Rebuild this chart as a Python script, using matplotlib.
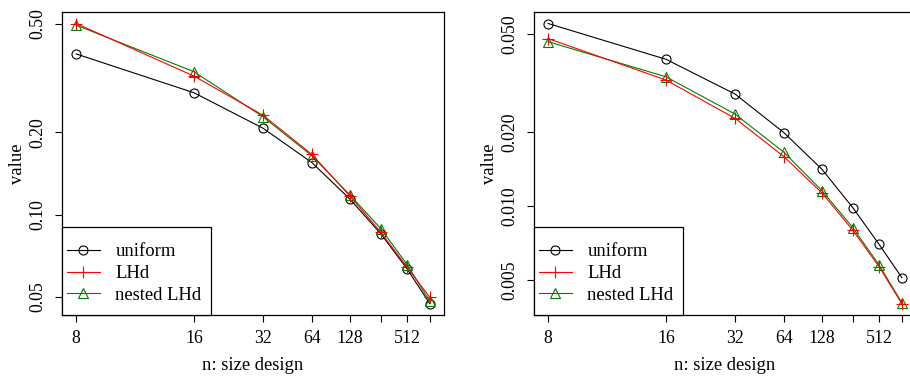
import numpy as np
import matplotlib
matplotlib.use("Agg")
import matplotlib.pyplot as plt
from matplotlib.patches import Rectangle

# design sizes
n_sizes = [8, 16, 32, 64, 128, 256, 512, 1024]
n_labels = ["8", "16", "32", "64", "128", "", "512", ""]

# left panel
left_uniform = [0.387, 0.279, 0.207, 0.155, 0.114, 0.085, 0.0633, 0.0472]
left_lhd = [0.500, 0.321, 0.231, 0.166, 0.117, 0.0861, 0.0642, 0.0498]
left_nested = [0.493, 0.333, 0.228, 0.164, 0.118, 0.0888, 0.0656, 0.0482]
left_yticks = [0.05, 0.10, 0.20, 0.50]
left_ylabels = ["0.05", "0.10", "0.20", "0.50"]

# right panel
right_uniform = [0.0554, 0.0396, 0.0286, 0.0199, 0.01413, 0.00984, 0.00698, 0.00511]
right_lhd = [0.0481, 0.0326, 0.02277, 0.0159, 0.01132, 0.00796, 0.00566, 0.0040]
right_nested = [0.0467, 0.0336, 0.0237, 0.01656, 0.01156, 0.00816, 0.00575, 0.00404]
right_yticks = [0.005, 0.010, 0.020, 0.050]
right_ylabels = ["0.005", "0.010", "0.020", "0.050"]

plt.rcParams['font.family'] = ['Liberation Serif', 'DejaVu Serif']
plt.rcParams['font.size'] = 13

W, H = 910, 376
fig = plt.figure(figsize=(W / 100, H / 100), dpi=100)

idx = np.arange(1, len(n_sizes) + 1)


def r_lim(vals, log=True):
    v = np.log10(vals) if log else np.log(vals)
    lo, hi = v.min(), v.max()
    pad = 0.04 * (hi - lo)
    return lo - pad, hi + pad


def panel(rect, uni, lhd, nest, yt, ytl):
    ax = fig.add_axes(rect)
    ax.plot(idx, uni, color="black", lw=0.8, marker="o", ms=6.5, mfc="none", mew=0.8, label="uniform")
    ax.plot(idx, nest, color="#008000", lw=0.8, marker="^", ms=7.5, mfc="none", mew=0.8, label="nested LHd")
    ax.plot(idx, lhd, color="red", lw=0.8, marker="+", ms=9, mew=0.8, label="LHd")
    ax.set_xscale("log")
    ax.set_yscale("log")
    lo, hi = r_lim(idx, log=False)
    ax.set_xlim(np.exp(lo), np.exp(hi))
    allv = np.concatenate([uni, lhd, nest])
    lo, hi = r_lim(allv)
    ax.set_ylim(10 ** lo, 10 ** hi)
    ax.minorticks_off()
    ax.set_xticks(idx)
    ax.set_xticklabels(n_labels)
    ax.set_yticks(yt)
    ax.set_yticklabels(ytl, rotation=90, va="center")
    ax.tick_params(axis="x", length=5, width=0.8, pad=6, labelsize=12.8)
    ax.tick_params(axis="y", length=5, width=0.8, pad=6, labelsize=12.8)
    for s in ax.spines.values():
        s.set_linewidth(0.9)
    ax.set_xlabel("n: size design", fontsize=13.4)
    ax.set_ylabel("value", fontsize=13.4)
    ax.xaxis.set_label_coords(0.5, -0.138)
    ax.yaxis.set_label_coords(-0.095, 0.5)

    # legend box like R's, taller padding than wide
    bw, bh = 149 / 382, 88 / 302.7
    ax.add_patch(Rectangle((0, 0), bw, bh, transform=ax.transAxes, facecolor="white",
                           edgecolor="black", lw=0.9, zorder=4, clip_on=False))
    h, l = ax.get_legend_handles_labels()
    order = [0, 2, 1]
    ax.legend([h[i] for i in order], [l[i] for i in order], loc="center left",
              bbox_to_anchor=(0, bh / 2 - 2.5 / 302.7), borderaxespad=0, frameon=False,
              fontsize=13.4, handlelength=1.75, handletextpad=0.85,
              borderpad=0.27, labelspacing=0.25)
    return ax


panel([62 / W, 61 / H, 382 / W, 302.7 / H], left_uniform, left_lhd, left_nested, left_yticks, left_ylabels)
panel([534 / W, 61 / H, 382 / W, 302.7 / H], right_uniform, right_lhd, right_nested, right_yticks, right_ylabels)

fig.savefig("out.png", dpi=100)
